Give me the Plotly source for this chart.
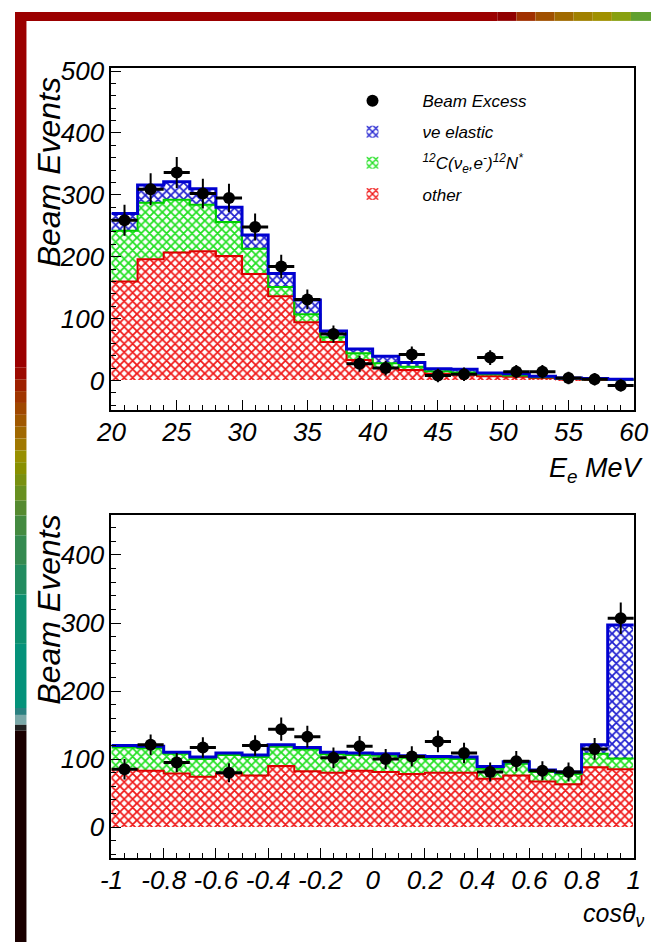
import plotly.graph_objects as go
import numpy as np

# ---------------- data: top panel (electron energy, MeV) ----------------
e_edges = [20, 22, 24, 26, 28, 30, 32, 34, 36, 38, 40, 42, 44, 46, 48, 50, 52, 54, 56, 58, 60]
e_other = [160, 196, 207, 209, 201, 172, 136, 94, 62, 33, 20, 17, 11, 10, 7, 6, 4, 3, 2, 1]
e_c12 = [82, 91, 85, 75, 55, 41, 15, 13, 8, 11, 8, 5, 4, 3, 3, 2, 1, 0, 0, 0]
e_nue = [28, 29, 29, 26, 24, 22, 22, 23, 10, 7, 11, 7, 4, 5, 2, 3, 2, 1, 1, 1]
e_data = [259, 309, 336, 302, 295, 248, 184, 131, 75, 27, 20, 42, 8, 10, 37, 14, 14, 4, 2, -8]
e_err = [25, 26, 25, 24, 23, 22, 19, 16, 14, 13, 12, 13, 11, 11, 12, 11, 11, 10, 10, 10]
e_ticks = [20, 25, 30, 35, 40, 45, 50, 55, 60]

# ---------------- data: bottom panel (cos theta_nu) ----------------
c_edges = [-1.0, -0.9, -0.8, -0.7, -0.6, -0.5, -0.4, -0.3, -0.2, -0.1, 0.0,
           0.1, 0.2, 0.3, 0.4, 0.5, 0.6, 0.7, 0.8, 0.9, 1.0]
c_other = [85, 83, 79, 74, 79, 76, 90, 82, 80, 83, 81, 78, 80, 80, 71, 76, 67, 63, 88, 85]
c_c12 = [32, 33, 29, 26, 27, 27, 28, 32, 27, 23, 24, 24, 21, 20, 15, 17, 14, 15, 20, 16]
c_nue = [3, 3, 2, 3, 3, 3, 3, 3, 3, 3, 3, 3, 3, 3, 3, 3, 3, 3, 13, 196]
c_data = [85, 121, 95, 117, 80, 120, 144, 133, 102, 119, 100, 104, 126, 109, 81, 97, 83, 81, 115, 307]
c_err = [15, 15, 14, 15, 14, 15, 17, 16, 15, 15, 15, 15, 16, 15, 14, 15, 14, 14, 16, 23]
c_tickvals = [-1, -0.8, -0.6, -0.4, -0.2, 0, 0.2, 0.4, 0.6, 0.8, 1]
c_ticktext = ["-1", "-0.8", "-0.6", "-0.4", "-0.2", "0", "0.2", "0.4", "0.6", "0.8", "1"]

y_top_ticks = [0, 100, 200, 300, 400, 500]
y_bot_ticks = [0, 100, 200, 300, 400]

names = ["Beam Excess", "\u03bde elastic",
         "<sup>12</sup>C(\u03bd<sub>e</sub>,e<sup>-</sup>)<sup>12</sup>N<sup>*</sup>", "other"]

# ---------------- styles ----------------
W, H = 666, 942
FONT = "Liberation Sans"
RED_F, GRN_F, BLU_F = "#f01818", "#22e022", "#2020d0"
RED_L, GRN_L, BLU_L = "#dd0000", "#00d000", "#0000d0"

fig = go.Figure()


def add_panel(edges, other, c12, nue, data, err, xa, ya, legend):
    edges = np.array(edges, dtype=float)
    centers = (edges[:-1] + edges[1:]) / 2
    widths = np.diff(edges)
    other = np.array(other, dtype=float)
    c12 = np.array(c12, dtype=float)
    nue = np.array(nue, dtype=float)
    comps = [(other, RED_F, names[3], 4), (c12, GRN_F, names[2], 3), (nue, BLU_F, names[1], 2)]
    for vals, col, nm, rank in comps:
        fig.add_trace(go.Bar(
            x=centers, y=vals, width=widths, xaxis=xa, yaxis=ya,
            name=nm, legendgroup=nm, legendrank=rank, showlegend=legend,
            marker=dict(color="white", line=dict(width=0),
                        pattern=dict(shape="x", fgcolor=col, bgcolor="white",
                                     size=6, solidity=0.5, fillmode="replace")),
            hoverinfo="skip"))
    tops = [(other, RED_L, 2), (other + c12, GRN_L, 2), (other + c12 + nue, BLU_L, 3)]
    for vals, col, lw in tops:
        fig.add_trace(go.Scatter(
            x=edges, y=np.append(vals, vals[-1]), xaxis=xa, yaxis=ya,
            mode="lines", line=dict(color=col, width=lw, shape="hv"),
            showlegend=False, hoverinfo="skip"))
    fig.add_trace(go.Scatter(
        x=centers, y=data, xaxis=xa, yaxis=ya, mode="markers",
        name=names[0], legendgroup=names[0], legendrank=1, showlegend=legend,
        marker=dict(color="black", size=12, symbol="circle"),
        error_y=dict(type="data", array=err, color="black", thickness=2, width=0),
        error_x=dict(type="data", array=widths / 2, color="black", thickness=3, width=0),
        hoverinfo="skip"))


add_panel(e_edges, e_other, e_c12, e_nue, e_data, e_err, "x", "y", True)
add_panel(c_edges, c_other, c_c12, c_nue, c_data, c_err, "x2", "y2", False)

tickfont = dict(family=FONT, size=26, color="black", style="italic")
axis_common = dict(showline=True, linecolor="black", linewidth=2, mirror=True,
                   ticks="inside", ticklen=10, tickwidth=1.2, tickcolor="black",
                   showgrid=False, zeroline=False, tickfont=tickfont)

xd = [101 / W, 648 / W]
fig.update_layout(
    width=W, height=H, autosize=False,
    margin=dict(l=0, r=0, t=0, b=0),
    paper_bgcolor="white", plot_bgcolor="white",
    barmode="stack", bargap=0,
    showlegend=True,
    legend=dict(x=322 / W, y=1 - 72 / H, xanchor="left", yanchor="top",
                bgcolor="rgba(0,0,0,0)", borderwidth=0,
                font=dict(family=FONT, size=17, color="black", style="italic"),
                traceorder="grouped", tracegroupgap=6, itemwidth=90),
    xaxis=dict(domain=xd, anchor="y", range=[20, 60], tickmode="array", tickvals=e_ticks,
               minor=dict(dtick=1, tick0=20, ticks="inside", ticklen=5, tickcolor="black", tickwidth=1),
               ticklabelstandoff=-2, **axis_common),
    yaxis=dict(domain=[1 - 403.3 / H, 1 - 56.7 / H], anchor="x", range=[-48, 505],
               tickmode="array", tickvals=y_top_ticks,
               minor=dict(dtick=20, tick0=0, ticks="inside", ticklen=5, tickcolor="black", tickwidth=1),
               ticklabelstandoff=0, **axis_common),
    xaxis2=dict(domain=xd, anchor="y2", range=[-1, 1], tickmode="array",
                tickvals=c_tickvals, ticktext=c_ticktext,
                minor=dict(dtick=0.05, tick0=-1, ticks="inside", ticklen=5, tickcolor="black", tickwidth=1),
                ticklabelstandoff=-2, **axis_common),
    yaxis2=dict(domain=[1 - 856.7 / H, 1 - 509.3 / H], anchor="x2", range=[-45, 459],
                tickmode="array", tickvals=y_bot_ticks,
                minor=dict(dtick=20, tick0=0, ticks="inside", ticklen=5, tickcolor="black", tickwidth=1),
                ticklabelstandoff=0, **axis_common),
)

title_font = dict(family=FONT, size=32, color="black", style="italic")
fig.add_annotation(text="Beam Events", x=36 / W, y=1 - 162 / H, xref="paper", yref="paper",
                   textangle=-90, showarrow=False, xanchor="center", yanchor="middle", font=title_font)
fig.add_annotation(text="Beam Events", x=36 / W, y=1 - 605 / H, xref="paper", yref="paper",
                   textangle=-90, showarrow=False, xanchor="center", yanchor="middle", font=title_font)
fig.add_annotation(text="E<sub>e</sub> MeV", x=661 / W, y=1 - 464 / H, xref="paper", yref="paper",
                   showarrow=False, xanchor="right", yanchor="middle",
                   font=dict(family=FONT, size=27, color="black", style="italic"))
fig.add_annotation(text="cos\u03b8<sub>\u03bd</sub>", x=661 / W, y=1 - 915 / H, xref="paper", yref="paper",
                   showarrow=False, xanchor="right", yanchor="middle",
                   font=dict(family=FONT, size=25, color="black", style="italic"))

# ---------------- slide decoration (left strip and top band) ----------------
strip_bands = [(0, 360, "#9b0000"), (360, 372, "#9c0a00"), (372, 384, "#9e2000"),
               (384, 396, "#a03500"), (396, 408, "#a04800"), (408, 420, "#a05800"),
               (420, 432, "#a06800"), (432, 444, "#a07800"), (444, 456, "#989000"),
               (456, 468, "#889000"), (468, 480, "#789010"), (480, 495, "#689020"),
               (495, 510, "#558a30"), (510, 530, "#448a40"), (530, 560, "#358a50"),
               (560, 590, "#228c60"), (590, 640, "#0d9070"), (640, 705, "#05927a"),
               (705, 712, "#2a8080"), (712, 722, "#7aa8a8"), (722, 728, "#202020"),
               (728, 942, "#1a0000")]
top_bands = [(0, 505, "#9b0000"), (505, 525, "#900000"), (525, 545, "#a03000"),
             (545, 565, "#a05000"), (565, 585, "#a06a00"), (585, 605, "#a08000"),
             (605, 625, "#a09000"), (625, 645, "#88a010"), (645, 666, "#60a030")]
STRIP_W, BAND_H = 12, 9
for y0, y1, col in strip_bands:
    fig.add_shape(type="rect", xref="paper", yref="paper", x0=0, x1=STRIP_W / W,
                  y0=1 - y1 / H, y1=1 - y0 / H, fillcolor=col, line=dict(width=0), layer="above")
for x0, x1, col in top_bands:
    fig.add_shape(type="rect", xref="paper", yref="paper", x0=x0 / W, x1=x1 / W,
                  y0=1 - BAND_H / H, y1=1, fillcolor=col, line=dict(width=0), layer="above")

fig.write_html("out.html")
